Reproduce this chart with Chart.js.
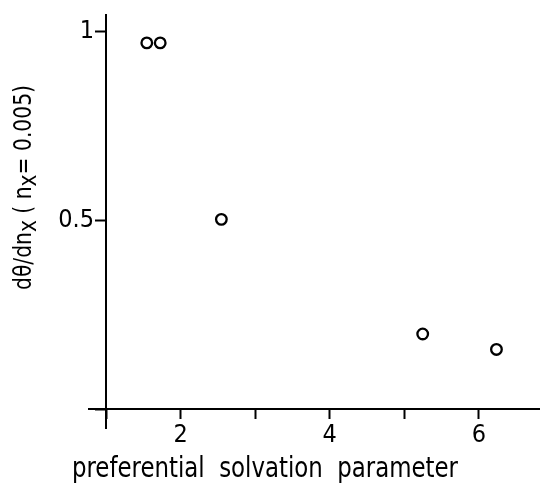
<!DOCTYPE html>
<html>
<head>
<meta charset="utf-8">
<script src="https://cdn.jsdelivr.net/npm/chart.js@4/dist/chart.umd.min.js"></script>
<style>
  html, body { margin: 0; padding: 0; background: #fff; }
  #wrap { width: 540px; height: 488px; position: relative; }
</style>
</head>
<body>
<div id="wrap"><canvas id="c"></canvas></div>
<script>
// values
const solvParam = [1.547, 1.727, 2.547, 5.247, 6.236];
const dThetaDn = [0.971, 0.971, 0.503, 0.199, 0.158];
const xTickLabels = { 2: '2', 4: '4', 6: '6' };
const yTickLabels = { 0.5: '0.5', 1: '1' };
const xTitle = 'preferential  solvation  parameter';
// y title pieces: [text, lowered?]
const yTitleParts = [['dθ/dn', false], ['x', true], [' ( n', false], ['x', true], ['= 0.005)', false]];

const FONT = '"Liberation Sans Narrow", "DejaVu Sans Condensed", sans-serif';

// axis lines running past the origin, and the two axis titles
const axisExtras = {
    id: 'axisExtras',
    afterDraw(chart) {
        const ctx = chart.ctx;
        const x = chart.scales.x, y = chart.scales.y;
        const x0 = x.getPixelForValue(x.min);
        const y0 = y.getPixelForValue(y.min);
        ctx.save();
        ctx.strokeStyle = '#000';
        ctx.lineWidth = 2;
        ctx.beginPath();
        ctx.moveTo(x0 - 18, y0);
        ctx.lineTo(x0, y0);
        ctx.moveTo(x0, y0);
        ctx.lineTo(x0, y0 + 20);
        ctx.stroke();

        ctx.fillStyle = '#000';
        // x title, squeezed to the width it has in the picture
        ctx.font = '28px ' + FONT;
        ctx.textBaseline = 'alphabetic';
        const w = ctx.measureText(xTitle).width;
        ctx.translate(72, 477);
        ctx.scale(386 / w, 1);
        ctx.textAlign = 'left';
        ctx.fillText(xTitle, 0, 0);
        ctx.restore();

        // y title, rotated, with lowered x
        ctx.save();
        ctx.fillStyle = '#000';
        ctx.font = '24px ' + FONT;
        ctx.textAlign = 'left';
        ctx.textBaseline = 'alphabetic';
        let total = 0;
        yTitleParts.forEach(p => { total += ctx.measureText(p[0]).width; });
        ctx.translate(31, 290);
        ctx.rotate(-Math.PI / 2);
        ctx.scale(205 / total, 1);
        let pos = 0;
        yTitleParts.forEach(p => {
            ctx.fillText(p[0], pos, p[1] ? 5 : 0);
            pos += ctx.measureText(p[0]).width;
        });
        ctx.restore();
    }
};

new Chart(document.getElementById('c'), {
    type: 'scatter',
    data: {
        datasets: [{
            data: solvParam.map((v, i) => ({ x: v, y: dThetaDn[i] })),
            pointStyle: 'circle',
            pointRadius: 5.3,
            pointBorderWidth: 2.3,
            pointBorderColor: '#000',
            pointBackgroundColor: 'rgba(255,255,255,0)'
        }]
    },
    options: {
        responsive: true,
        maintainAspectRatio: false,
        animation: false,
        layout: { autoPadding: false, padding: { top: 15, right: 0, left: 0, bottom: 0 } },
        plugins: { legend: { display: false }, tooltip: { enabled: false } },
        scales: {
            x: {
                type: 'linear',
                min: 1,
                max: 6.82,
                afterFit: s => { s.height = 79; s.paddingRight = 0; s.paddingLeft = 0; },
                border: { display: true, color: '#000', width: 2 },
                grid: { drawOnChartArea: false, drawTicks: true, tickLength: 10, tickColor: '#000', tickWidth: 2 },
                ticks: {
                    stepSize: 1,
                    includeBounds: false,
                    autoSkip: false,
                    maxRotation: 0,
                    padding: 1,
                    color: '#000',
                    font: { family: FONT, size: 25 },
                    callback: v => xTickLabels[v] || ''
                }
            },
            y: {
                type: 'linear',
                min: 0,
                max: 1.045,
                afterFit: s => { s.width = 106; s.paddingTop = 0; s.paddingBottom = 0; },
                border: { display: true, color: '#000', width: 2 },
                grid: { drawOnChartArea: false, drawTicks: true, tickLength: 11, tickColor: '#000', tickWidth: 2 },
                ticks: {
                    stepSize: 0.5,
                    includeBounds: false,
                    padding: 1,
                    color: '#000',
                    font: { family: FONT, size: 25 },
                    callback: v => yTickLabels[v] || ''
                }
            }
        }
    },
    plugins: [axisExtras]
});
</script>
</body>
</html>
